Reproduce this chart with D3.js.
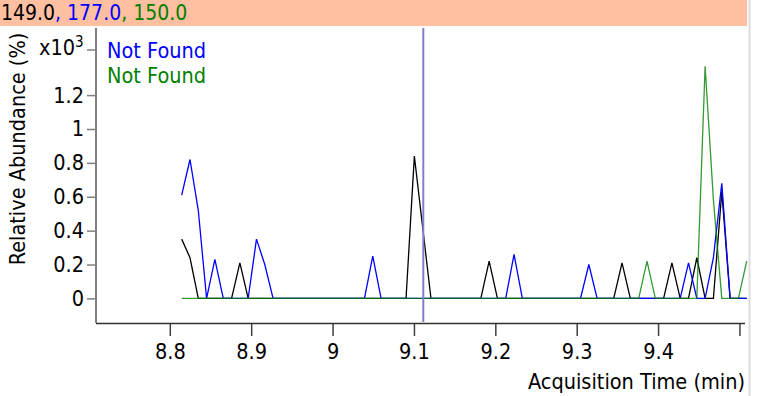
<!DOCTYPE html>
<html><head><meta charset="utf-8">
<script src="https://cdn.jsdelivr.net/npm/d3@7"></script>
<style>
body{margin:0;background:#fff}
svg{display:block}
text{font-family:"DejaVu Sans Condensed","DejaVu Sans",sans-serif;}
</style></head>
<body><svg id="c" width="759" height="396"></svg>
<script>
// ---- data ----
const headerLabels = ["149.0", "177.0", "150.0"];
const seriesColors = ["#000000", "#0000ff", "#008000"];
const legendLabels = ["Not Found", "Not Found"];
const legendColors = ["#0000ff", "#008000"];
const xTicks = [8.8, 8.9, 9.0, 9.1, 9.2, 9.3, 9.4, 9.5];
const xTickLabels = ["8.8", "8.9", "9", "9.1", "9.2", "9.3", "9.4", ""];
const yTicks = [0, 0.2, 0.4, 0.6, 0.8, 1.0, 1.2];
const yTickLabels = ["0", "0.2", "0.4", "0.6", "0.8", "1", "1.2"];
const markerTime = 9.1115;
const times = [
 8.8146, 8.8248, 8.8350, 8.8452, 8.8554, 8.8657, 8.8759, 8.8861, 8.8963, 8.9065,
 8.9167, 8.9269, 8.9371, 8.9473, 8.9575, 8.9678, 8.9780, 8.9882, 8.9984, 9.0086,
 9.0188, 9.0290, 9.0392, 9.0494, 9.0596, 9.0699, 9.0801, 9.0903, 9.1005, 9.1107,
 9.1209, 9.1311, 9.1413, 9.1515, 9.1617, 9.1720, 9.1822, 9.1924, 9.2026, 9.2128,
 9.2230, 9.2332, 9.2434, 9.2536, 9.2638, 9.2741, 9.2843, 9.2945, 9.3047, 9.3149,
 9.3251, 9.3353, 9.3455, 9.3557, 9.3659, 9.3762, 9.3864, 9.3966, 9.4068, 9.4170,
 9.4272, 9.4374, 9.4476, 9.4578, 9.4680, 9.4783, 9.4885, 9.4987, 9.5089];
// values in x10^3
const series149 = [
 0.35,0.24,0,0,0,0,0,0.21,0,0,
 0,0,0,0,0,0,0,0,0,0,
 0,0,0,0,0,0,0,0,0.84,0.42,
 0,0,0,0,0,0,0,0.22,0,0,
 0,0,0,0,0,0,0,0,0,0,
 0,0,0,0.21,0,0,0,0,0,0.21,
 0,0,0.24,0,0,0.63,0,0,0];
const series177 = [
 0.61,0.82,0.52,0,0.23,0,0,0,0,0.35,
 0.20,0,0,0,0,0,0,0,0,0,
 0,0,0,0.25,0,0,0,0,0,0,
 0,0,0,0,0,0,0,0,0,0,
 0.26,0,0,0,0,0,0,0,0,0.20,
 0,0,0,0,0,0,0,0,0,0,
 0,0.21,0,0,0.24,0.68,0,0,0];
const series150 = [
 0,0,0,0,0,0,0,0,0,0,
 0,0,0,0,0,0,0,0,0,0,
 0,0,0,0,0,0,0,0,0,0,
 0,0,0,0,0,0,0,0,0,0,
 0,0,0,0,0,0,0,0,0,0,
 0,0,0,0,0,0,0.22,0,0,0,
 0,0,0,1.37,0.58,0,0,0,0.22];

// ---- layout ----
const svg = d3.select("#c");
const FS = 21.5;
const x = d3.scaleLinear().domain([8.7093, 9.5105]).range([96, 748]);
const y = d3.scaleLinear().domain([-0.1393, 1.5962]).range([322, 28]);

// header
svg.append("rect").attr("x",0).attr("y",0).attr("width",747).attr("height",26).attr("fill","#ffbfa0");
const ht = svg.append("text").attr("x",1).attr("y",20).attr("font-size",21);
headerLabels.forEach((l,i)=>{
  ht.append("tspan").attr("fill",seriesColors[i]).text((i? ", ":"")+l);
});
// right border
svg.append("line").attr("x1",749.5).attr("x2",749.5).attr("y1",0).attr("y2",396).attr("stroke","#dcdcdc").attr("stroke-width",2);

// clip
svg.append("clipPath").attr("id","pc").append("rect").attr("x",96).attr("y",28).attr("width",652).attr("height",296);

// data lines (order: 149 black, 177 blue, 150 green)
const line = d3.line().x((d,i)=>x(times[i])).y(d=>y(d));
const plot = svg.append("g").attr("clip-path","url(#pc)");
[[series149,0,1],[series177,1,1],[series150,2,0.8]].forEach(([s,ci,op])=>{
  plot.append("path").datum(s).attr("d",line).attr("fill","none")
    .attr("stroke",seriesColors[ci]).attr("stroke-opacity",op).attr("stroke-width",1.3).attr("stroke-linejoin","miter");
});
// marker line
svg.append("line").attr("x1",x(markerTime)).attr("x2",x(markerTime)).attr("y1",28).attr("y2",322)
  .attr("stroke","#7f7fcc").attr("stroke-width",2);

// y axis
const ya = svg.append("g").attr("transform","translate(96,0)")
  .call(d3.axisLeft(y).tickValues(yTicks).tickSize(9).tickPadding(3).tickFormat((d,i)=>yTickLabels[i]));
ya.select(".domain").remove();
ya.selectAll(".tick line").attr("stroke","#808080").attr("stroke-width",1.5);
ya.selectAll(".tick text").attr("font-size",FS).attr("fill","#000").attr("font-family",null);
svg.append("line").attr("x1",96).attr("x2",96).attr("y1",28).attr("y2",323).attr("stroke","#808080").attr("stroke-width",2);
// top marker tick with exponent
svg.append("line").attr("x1",87).attr("x2",96).attr("y1",50).attr("y2",50).attr("stroke","#808080").attr("stroke-width",1.5);
const ex = svg.append("text").attr("x",39).attr("y",55).attr("font-size",FS);
ex.append("tspan").text("x10");
ex.append("tspan").attr("dy",-8).attr("font-size",15).text("3");

// x axis
const xa = svg.append("g").attr("transform","translate(0,323)")
  .call(d3.axisBottom(x).tickValues(xTicks).tickSize(13).tickPadding(8).tickFormat((d,i)=>xTickLabels[i]));
xa.select(".domain").remove();
xa.selectAll(".tick line").attr("stroke","#404040").attr("stroke-width",1.5);
xa.selectAll(".tick text").attr("font-size",FS).attr("fill","#000").attr("font-family",null);
svg.append("line").attr("x1",96).attr("x2",745).attr("y1",323.5).attr("y2",323.5).attr("stroke","#303030").attr("stroke-width",1.5);

// titles
svg.append("text").attr("x",745).attr("y",389).attr("text-anchor","end").attr("font-size",FS).text("Acquisition Time (min)");
svg.append("text").attr("transform","translate(25,149) rotate(-90)").attr("text-anchor","middle").attr("font-size",FS).text("Relative Abundance (%)");

// legend
legendLabels.forEach((l,i)=>{
  svg.append("text").attr("x",107).attr("y",58+i*25).attr("font-size",FS).attr("fill",legendColors[i]).text(l);
});
</script></body></html>
